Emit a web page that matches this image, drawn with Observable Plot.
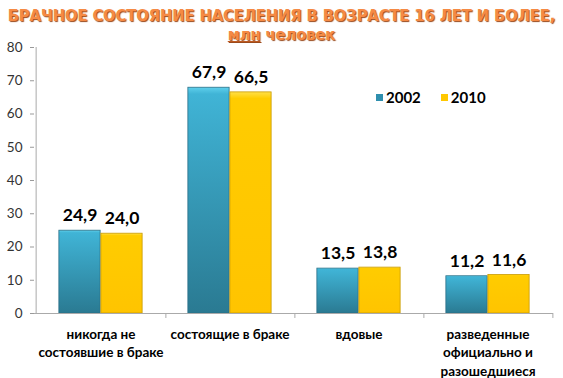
<!DOCTYPE html>
<html>
<head>
<meta charset="utf-8">
<script src="https://cdn.jsdelivr.net/npm/d3@7"></script>
<script src="https://cdn.jsdelivr.net/npm/@observablehq/plot@0.6"></script>
<style>
  body { margin: 0; background: #fff; }
  #wrap { position: relative; width: 563px; height: 378px; overflow: hidden; }
  #title { position: absolute; left: 0; top: 6px; width: 563px; text-align: center;
    font-family: "DejaVu Sans Condensed", "DejaVu Sans", sans-serif; font-weight: bold;
    font-size: 16.4px; line-height: 19px; color: #f58a44;
    text-shadow: 1px 1px 1px #9a4a1c; letter-spacing: -0.1px; }
  #title u { text-decoration-color: #c05a20; }
  #legend { position: absolute; left: 376px; top: 88px; font-family: Lato, sans-serif;
    font-weight: bold; font-size: 15px; color: #000; display: flex; align-items: center; }
  #legend span.sw { display: inline-block; width: 7px; height: 7px; margin-right: 3px; }
  #legend span.lb { margin-right: 20px; }
  #chart { position: absolute; left: 0; top: 0; }
</style>
</head>
<body>
<div id="wrap">
  <div id="chart"></div>
  <div id="title">БРАЧНОЕ СОСТОЯНИЕ НАСЕЛЕНИЯ В ВОЗРАСТЕ 16 ЛЕТ И БОЛЕЕ,<br><u>млн</u> человек</div>
  <div id="legend"></div>
</div>
<script>
const categories = ["никогда не\nсостоявшие в браке", "состоящие в браке", "вдовые", "разведенные\nофициально и\nразошедшиеся"];
const years = ["2002", "2010"];
const values2002 = [24.9, 67.9, 13.5, 11.2];
const values2010 = [24.0, 66.5, 13.8, 11.6];
const yTicks = [0, 10, 20, 30, 40, 50, 60, 70, 80];

const d2002 = categories.map((c, i) => ({cat: c, year: "2002", value: values2002[i]}));
const d2010 = categories.map((c, i) => ({cat: c, year: "2010", value: values2010[i]}));
const fmt = v => v.toFixed(1).replace(".", ",");

const W = 563, H = 378;
const mL = 34, mR = 10, mT = 47, mB = 65;
const band = (W - mL - mR) / categories.length;
const barW = 42;
const pad = (band - 2 * barW) / 2;

const plot = Plot.plot({
  width: W, height: H,
  marginLeft: mL, marginRight: mR, marginTop: mT, marginBottom: mB,
  style: {fontFamily: "Lato, sans-serif", background: "transparent", overflow: "visible"},
  x: {domain: categories, padding: 0, axis: null},
  y: {domain: [0, 80], axis: null},
  marks: [
    Plot.axisY({ticks: yTicks, tickSize: 4, tickPadding: 8, stroke: "#999", fill: "#333", fontSize: 13.5, label: null}),
    Plot.ruleX([0], {x: () => categories[0], dx: -band / 2, y1: 0, y2: 80, stroke: "#aaa"}),
    Plot.barY(d2002, {x: "cat", y: "value", fill: "url(#g2002)", stroke: "#2a6f86", strokeWidth: 0.8,
      insetLeft: pad, insetRight: pad + barW}),
    Plot.barY(d2010, {x: "cat", y: "value", fill: "url(#g2010)", stroke: "#c99a00", strokeWidth: 0.8,
      insetLeft: pad + barW, insetRight: pad}),
    Plot.ruleY([0], {stroke: "#aaa"}),
    Plot.ruleX(categories, {x: d => d, dx: band / 2, y1: 0, y2: -1.5, stroke: "#aaa"}),
    Plot.text(d2002, {x: "cat", y: "value", text: d => fmt(d.value), dx: -barW / 2, dy: -15,
      fontSize: 17.5, fontWeight: "bold", fill: "#000"}),
    Plot.text(d2010, {x: "cat", y: "value", text: d => fmt(d.value), dx: barW / 2, dy: -15,
      fontSize: 17.5, fontWeight: "bold", fill: "#000"}),
    Plot.text(categories, {x: d => d, y: 0, text: d => d, lineAnchor: "top", dy: 12,
      lineHeight: 1.38, fontSize: 13.5, fontWeight: "bold", fill: "#000"})
  ]
});

const ns = "http://www.w3.org/2000/svg";
const defs = document.createElementNS(ns, "defs");
defs.innerHTML = `
<linearGradient id="g2002" x1="0" y1="0" x2="0" y2="1">
  <stop offset="0" stop-color="#5fd0ec"/>
  <stop offset="0.03" stop-color="#40b4d6"/>
  <stop offset="1" stop-color="#2a7a92"/>
</linearGradient>
<linearGradient id="g2010" x1="0" y1="0" x2="0" y2="1">
  <stop offset="0" stop-color="#ffe04a"/>
  <stop offset="0.03" stop-color="#ffcc00"/>
  <stop offset="1" stop-color="#ffc400"/>
</linearGradient>`;
plot.insertBefore(defs, plot.firstChild);
document.getElementById("chart").appendChild(plot);

const legend = document.getElementById("legend");
const swatch = {"2002": "#2f8fae", "2010": "#ffc800"};
years.forEach(y => {
  const s = document.createElement("span"); s.className = "sw"; s.style.background = swatch[y];
  const l = document.createElement("span"); l.className = "lb"; l.textContent = y;
  legend.appendChild(s); legend.appendChild(l);
});
</script>
</body>
</html>
